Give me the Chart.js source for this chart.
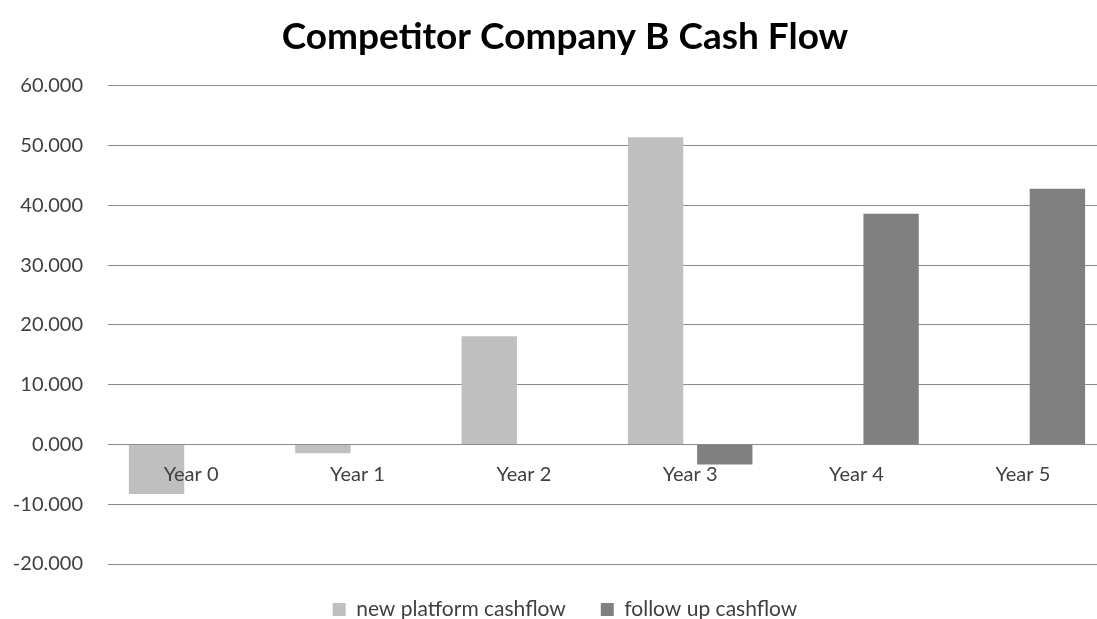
<!DOCTYPE html>
<html>
<head>
<meta charset="utf-8">
<script src="https://cdn.jsdelivr.net/npm/chart.js@4/dist/chart.umd.min.js"></script>
<style>
  html, body { margin: 0; padding: 0; background: #fff; overflow: hidden; }
  #wrap { width: 1130px; height: 630px; }
</style>
</head>
<body>
<div id="wrap"><canvas id="myChart"></canvas></div>
<script>
const years = ['Year 0', 'Year 1', 'Year 2', 'Year 3', 'Year 4', 'Year 5'];
const newPlatform = [-8.3, -1.45, 18.1, 51.4, 0, 0];
const followUp = [0, 0, 0, -3.35, 38.6, 42.8];
const yTicks = [-20, -10, 0, 10, 20, 30, 40, 50, 60];

const textColor = '#404040';
const fontFamily = 'Lato, "Open Sans", sans-serif';

// chart is a little wider/taller than the window, like the cropped original
const ctx = document.getElementById('myChart').getContext('2d');
new Chart(ctx, {
  type: 'bar',
  data: {
    labels: years,
    datasets: [
      {
        label: 'new platform cashflow',
        backgroundColor: '#bfbfbf',
        data: newPlatform
      },
      {
        label: 'follow up cashflow',
        backgroundColor: '#808080',
        data: followUp
      }
    ]
  },
  options: {
    responsive: true,
    maintainAspectRatio: false,
    animation: false,
    categoryPercentage: 0.832,
    barPercentage: 0.80,
    layout: { padding: 0 },
    plugins: {
      title: {
        display: true,
        text: 'Competitor Company B Cash Flow',
        color: '#000',
        font: { family: fontFamily, size: 37, weight: 'bold' },
        padding: { top: 15, bottom: 26.5 }
      },
      legend: {
        position: 'bottom',
        labels: {
          color: textColor,
          font: { family: fontFamily, size: 21 },
          boxWidth: 13,
          boxHeight: 13,
          padding: 35
        }
      },
      tooltip: { enabled: false }
    },
    scales: {
      x: {
        position: { y: 0 },
        grid: { display: false },
        border: { display: false },
        ticks: {
          z: 1,
          color: textColor,
          font: { family: fontFamily, size: 20 },
          padding: 10
        }
      },
      y: {
        min: yTicks[0],
        max: yTicks[yTicks.length - 1],
        afterBuildTicks(scale) {
          scale.ticks = yTicks.map(v => ({ value: v }));
        },
        afterFit(scale) {
          scale.width = 108;
        },
        grid: { color: '#8a8a8a', lineWidth: 1, drawTicks: false },
        border: { display: false },
        ticks: {
          color: textColor,
          font: { family: fontFamily, size: 20 },
          padding: 25,
          callback: v => v.toFixed(3)
        }
      },
      // empty right margin so title and legend stay centred on the full width
      yRight: {
        position: 'right',
        min: yTicks[0],
        max: yTicks[yTicks.length - 1],
        grid: { display: false },
        border: { display: false },
        ticks: { display: false },
        afterFit(scale) {
          scale.width = 24;
        }
      }
    }
  }
});
</script>
</body>
</html>
